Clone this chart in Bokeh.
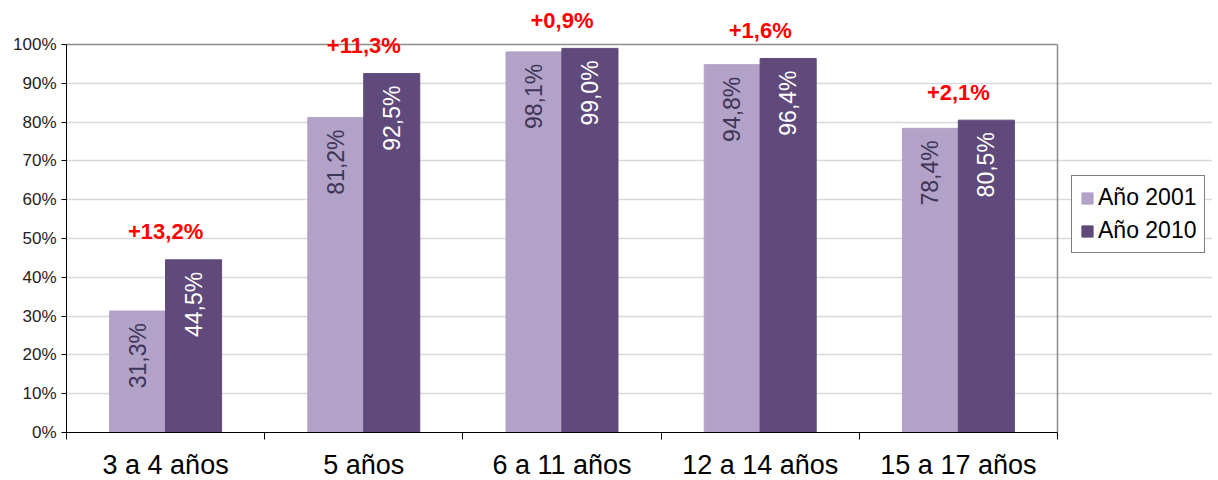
import numpy as np
from bokeh.plotting import figure
from bokeh.models import (ColumnDataSource, FixedTicker, Legend, LegendItem, Range1d)
from bokeh.core.properties import value
from bokeh.embed import file_html
from bokeh.resources import INLINE

categories = ["3 a 4 años", "5 años", "6 a 11 años", "12 a 14 años", "15 a 17 años"]
y2001 = [31.3, 81.2, 98.1, 94.8, 78.4]
y2010 = [44.5, 92.5, 99.0, 96.4, 80.5]
series_names = ["Año 2001", "Año 2010"]
y_ticks = [0, 10, 20, 30, 40, 50, 60, 70, 80, 90, 100]

C2001 = "#B3A2C7"
C2010 = "#604A7B"
FONT = "Liberation Sans"
BORDER = "#8c8c8c"

def fmt(v):
    return f"{v:.1f}".replace(".", ",") + "%"

n = len(categories)
centers = np.arange(n) + 0.5
half = 0.141
bw = 0.283
ymax = y_ticks[-1]

# layout: chart area 991 px wide, extra room on the right for the legend
AREA_W = 991
FRAME_W = 1146
x_end = n * FRAME_W / AREA_W

src = ColumnDataSource(dict(
    xc=centers,
    x1=centers - half,
    x2=centers + half,
    y1=y2001,
    y2=y2010,
    l1=[fmt(v) for v in y2001],
    l2=[fmt(v) for v in y2010],
    ld=["+" + fmt(b - a) for a, b in zip(y2001, y2010)],
))

p = figure(frame_width=FRAME_W, frame_height=424, output_backend="svg", toolbar_location=None,
           x_range=Range1d(0, x_end), y_range=Range1d(0, 109.28),
           min_border_left=66, min_border_top=8, min_border_right=0, min_border_bottom=0)
p.background_fill_color = "white"
p.border_fill_color = "white"
p.outline_line_color = None

# gridlines
p.xgrid.grid_line_color = None
p.ygrid.ticker = FixedTicker(ticks=y_ticks[1:-1])
p.ygrid.grid_line_color = "#d9d9d9"
p.ygrid.grid_line_width = 1.5

# plot-area border (top and right)
p.segment(x0=[0, n], y0=[ymax, 0], x1=[n, n], y1=[ymax, ymax],
          line_color=BORDER, line_width=1.5)

r1 = p.vbar(x="x1", top="y1", width=bw, source=src, fill_color=C2001, line_color=C2001)
r2 = p.vbar(x="x2", top="y2", width=bw, source=src, fill_color=C2010, line_color=C2010)

p.text(x="x1", y="y1", text="l1", source=src, angle=np.pi / 2, text_align="right",
       text_baseline="middle", y_offset=12, text_color="#3d3558",
       text_font=value(FONT), text_font_size="23px")
p.text(x="x2", y="y2", text="l2", source=src, angle=np.pi / 2, text_align="right",
       text_baseline="middle", y_offset=12, text_color="white",
       text_font=value(FONT), text_font_size="23px")
p.text(x="xc", y="y2", text="ld", source=src, text_align="center",
       text_baseline="middle", y_offset=-28, text_color="#FF0000",
       text_font=value(FONT), text_font_size="22px", text_font_style="bold")

# axes
yax = p.yaxis[0]
yax.bounds = (0, ymax)
yax.ticker = FixedTicker(ticks=y_ticks)
yax.major_label_overrides = {t: f"{t}%" for t in y_ticks}
yax.major_label_text_font = FONT
yax.major_label_text_font_size = "17px"
yax.major_label_text_color = "#222222"
yax.major_tick_in = 0
yax.major_tick_out = 5
yax.minor_tick_line_color = None
yax.axis_line_color = "black"
yax.major_tick_line_color = "black"
yax.major_label_standoff = 5

xax = p.xaxis[0]
xax.bounds = (0, n)
xax.ticker = FixedTicker(ticks=list(centers), minor_ticks=list(range(n + 1)))
xax.major_label_overrides = {float(c): cat for c, cat in zip(centers, categories)}
xax.major_label_text_font = FONT
xax.major_label_text_font_size = "27px"
xax.major_label_text_color = "black"
xax.major_tick_in = 0
xax.major_tick_out = 0
xax.minor_tick_in = 0
xax.minor_tick_out = 7
xax.minor_tick_line_color = "black"
xax.axis_line_color = "black"
xax.major_label_standoff = 10

legend = Legend(items=[LegendItem(label=series_names[0], renderers=[r1]),
                       LegendItem(label=series_names[1], renderers=[r2])],
                location=(AREA_W + 14, 179))
legend.label_text_font = FONT
legend.label_text_font_size = "23px"
legend.label_text_color = "black"
legend.glyph_width = 14
legend.glyph_height = 14
legend.label_standoff = 4
legend.spacing = 6
legend.padding = 8
legend.margin = 0
legend.border_line_color = "black"
legend.border_line_width = 1
legend.background_fill_color = "white"
p.add_layout(legend, "center")

open("out.html", "w").write(file_html(p, INLINE))
